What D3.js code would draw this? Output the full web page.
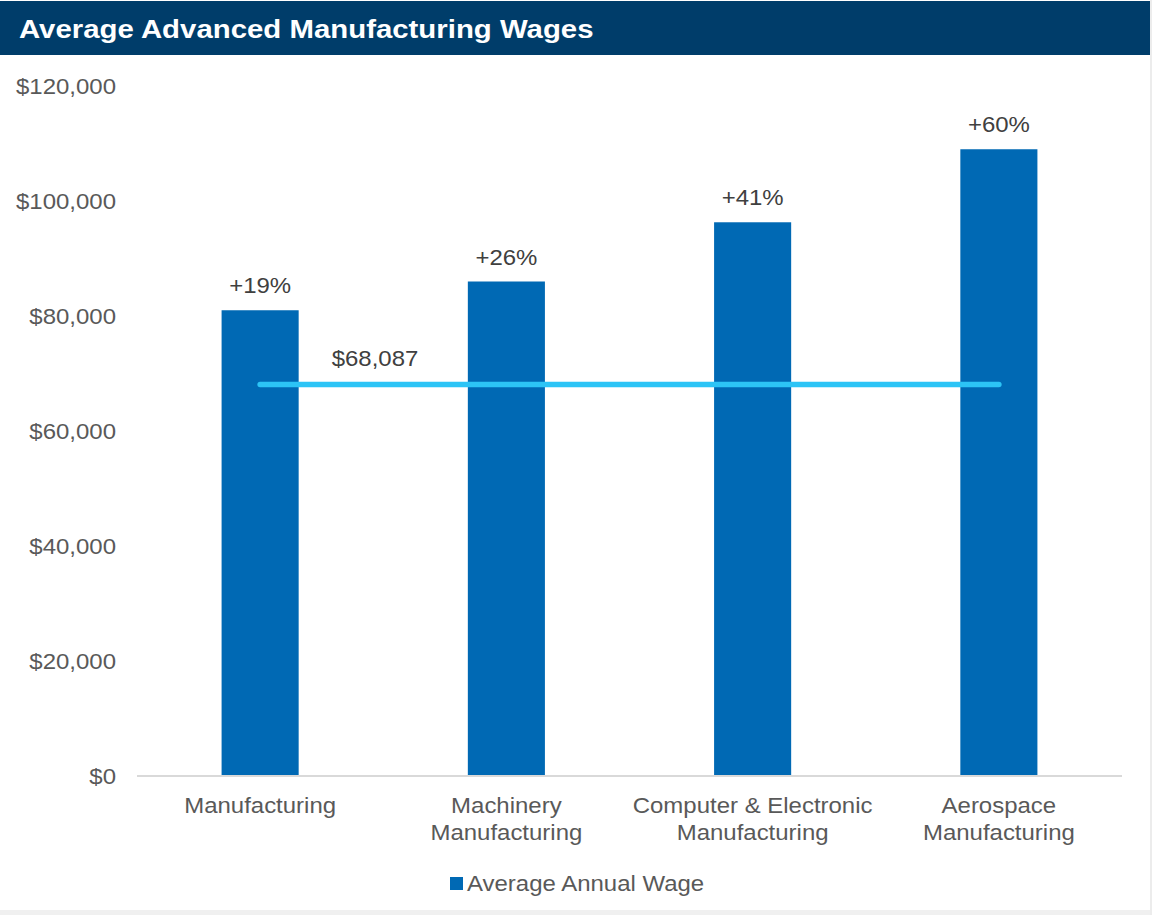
<!DOCTYPE html>
<html>
<head>
<meta charset="utf-8">
<script src="https://cdn.jsdelivr.net/npm/d3@7"></script>
<style>
  html, body { margin: 0; padding: 0; background: #ffffff; }
  svg { display: block; font-family: "Liberation Sans", Arial, sans-serif; }
</style>
</head>
<body>
<svg id="chart" width="1152" height="915"></svg>
<script>
const title = "Average Advanced Manufacturing Wages";
const categories = [
  ["Manufacturing"],
  ["Machinery", "Manufacturing"],
  ["Computer & Electronic", "Manufacturing"],
  ["Aerospace", "Manufacturing"]
];
const wages = [81000, 86000, 96300, 109000];
const pctLabels = ["+19%", "+26%", "+41%", "+60%"];
const averageWage = 68087;
const averageLabel = "$68,087";
const yTicks = [0, 20000, 40000, 60000, 80000, 100000, 120000];
const legendLabel = "Average Annual Wage";

const svg = d3.select("#chart");
const SX = 1.09; // horizontal text stretch
const FS = 22;

function stext(g, x, y, str, sx) {
  return g.append("text")
    .attr("transform", `translate(${x},${y}) scale(${sx || SX},1)`)
    .text(str);
}

// background pieces
svg.append("rect").attr("x", 0).attr("y", 0).attr("width", 1152).attr("height", 915).attr("fill", "#ffffff");
svg.append("rect").attr("x", 0).attr("y", 910).attr("width", 1152).attr("height", 5).attr("fill", "#f0f0f0");
svg.append("rect").attr("x", 1150).attr("y", 0).attr("width", 2).attr("height", 915).attr("fill", "#ececec");

// title bar
svg.append("rect").attr("x", 0).attr("y", 1).attr("width", 1150).attr("height", 54).attr("fill", "#003d6a");
stext(svg, 19, 38, title, 1.13)
  .attr("fill", "#ffffff").attr("font-size", 26).attr("font-weight", "bold");

const keys = categories.map(c => c.join(" "));
const x = d3.scaleBand().domain(keys).range([137, 1122]).paddingInner(0.687).paddingOuter(0.3435);
const y = d3.scaleLinear().domain([0, 120000]).range([776, 86]);

// y tick labels
const fmt = d3.format("$,");
const yg = svg.append("g").attr("fill", "#595959").attr("font-size", FS).attr("text-anchor", "end");
yTicks.forEach(t => stext(yg, 116, y(t) + 8, fmt(t)));

// bars
svg.append("g").selectAll("rect").data(wages).join("rect")
  .attr("x", (d, i) => x(keys[i]))
  .attr("y", d => y(d))
  .attr("width", x.bandwidth())
  .attr("height", d => y(0) - y(d))
  .attr("fill", "#0069b4");

// axis line
svg.append("line").attr("x1", 137).attr("x2", 1122).attr("y1", y(0)).attr("y2", y(0))
  .attr("stroke", "#d9d9d9").attr("stroke-width", 2);

// pct labels
const pg = svg.append("g").attr("fill", "#404040").attr("font-size", FS).attr("text-anchor", "middle");
wages.forEach((d, i) => stext(pg, x(keys[i]) + x.bandwidth() / 2, y(d) - 17, pctLabels[i]));

// average line
const cx0 = x(keys[0]) + x.bandwidth() / 2;
const cx1 = x(keys[keys.length - 1]) + x.bandwidth() / 2;
svg.append("line").attr("x1", cx0).attr("x2", cx1).attr("y1", y(averageWage)).attr("y2", y(averageWage))
  .attr("stroke", "#2cc4f6").attr("stroke-width", 5.5).attr("stroke-linecap", "round");
stext(svg, 375, y(averageWage) - 18, averageLabel)
  .attr("fill", "#404040").attr("font-size", FS).attr("text-anchor", "middle");

// category labels
const cg = svg.append("g").attr("fill", "#595959").attr("font-size", FS).attr("text-anchor", "middle");
categories.forEach((lines, i) => {
  lines.forEach((ln, j) => stext(cg, x(keys[i]) + x.bandwidth() / 2, 813 + j * 27, ln));
});

// legend
svg.append("rect").attr("x", 450).attr("y", 877).attr("width", 13).attr("height", 13).attr("fill", "#0069b4");
stext(svg, 467, 891, legendLabel).attr("fill", "#595959").attr("font-size", FS);
</script>
</body>
</html>
